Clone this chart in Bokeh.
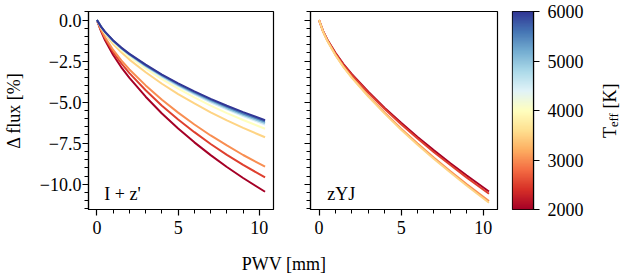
import numpy as np
from bokeh.plotting import figure
from bokeh.layouts import row, column
from bokeh.models import FixedTicker, CustomJSTickFormatter, Range1d, LinearColorMapper
from bokeh.core.properties import value
from bokeh.embed import file_html
from bokeh.resources import INLINE

# ---------------- data ----------------
pwv = [0, 0.25, 0.5, 1, 1.5, 2, 3, 4, 5, 6, 7, 8, 9, 10.35]

teff_iz = [2000, 2500, 3000, 3500, 4000, 4500, 5000, 5500, 6000]
iz_2000 = [0, -0.68, -1.23, -2.13, -2.88, -3.52, -4.67, -5.69, -6.61, -7.45, -8.23, -8.95, -9.62, -10.46]
iz_2500 = [0, -0.62, -1.13, -1.96, -2.64, -3.23, -4.28, -5.22, -6.06, -6.83, -7.55, -8.21, -8.82, -9.59]
iz_3000 = [0, -0.58, -1.05, -1.82, -2.46, -3.01, -3.98, -4.86, -5.64, -6.36, -7.03, -7.64, -8.22, -8.93]
iz_3500 = [0, -0.46, -0.84, -1.46, -1.96, -2.41, -3.18, -3.88, -4.51, -5.08, -5.62, -6.11, -6.57, -7.14]
iz_4000 = [0, -0.43, -0.78, -1.35, -1.82, -2.23, -2.95, -3.60, -4.18, -4.71, -5.21, -5.67, -6.09, -6.62]
iz_4500 = [0, -0.41, -0.75, -1.30, -1.75, -2.14, -2.84, -3.46, -4.02, -4.53, -5.01, -5.44, -5.85, -6.36]
iz_5000 = [0, -0.41, -0.74, -1.28, -1.72, -2.11, -2.80, -3.41, -3.96, -4.46, -4.93, -5.37, -5.77, -6.27]
iz_5500 = [0, -0.40, -0.73, -1.26, -1.70, -2.08, -2.76, -3.36, -3.91, -4.40, -4.86, -5.29, -5.69, -6.18]
iz_6000 = [0, -0.40, -0.72, -1.24, -1.68, -2.06, -2.72, -3.32, -3.86, -4.34, -4.80, -5.22, -5.61, -6.10]

teff_zyj = [2000, 2500, 3000, 3500]
zyj_2000 = [0, -0.68, -1.18, -2.00, -2.70, -3.30, -4.37, -5.35, -6.26, -7.12, -7.94, -8.72, -9.47, -10.44]
zyj_2500 = [0, -0.69, -1.20, -2.03, -2.74, -3.34, -4.43, -5.42, -6.35, -7.22, -8.05, -8.83, -9.60, -10.58]
zyj_3000 = [0, -0.72, -1.25, -2.12, -2.86, -3.49, -4.62, -5.65, -6.62, -7.52, -8.39, -9.21, -10.00, -11.03]
zyj_3500 = [0, -0.72, -1.26, -2.14, -2.88, -3.52, -4.66, -5.70, -6.68, -7.59, -8.47, -9.29, -10.09, -11.13]

x_ticks = [0, 5, 10]
y_ticks = [0, -2.5, -5.0, -7.5, -10.0]
cbar_ticks = [2000, 3000, 4000, 5000, 6000]
teff_low, teff_high = 2000, 6000

panel_iz = "I + z'"
panel_zyj = "zYJ"
xlabel = "PWV [mm]"
ylabel = "\u0394 flux [%]"
cbar_label_main = "T"
cbar_label_sub = "eff"
cbar_label_unit = "[K]"

# ---------------- style ----------------
FONT = "Liberation Serif"
FS = "18px"
LW = 2.0
RDYLBU = ['#a50026', '#d73027', '#f46d43', '#fdae61', '#fee090', '#ffffbf',
          '#e0f3f8', '#abd9e9', '#74add1', '#4575b4', '#313695']


def _rgb(h):
    h = h.lstrip('#')
    return np.array([int(h[i:i + 2], 16) for i in (0, 2, 4)], dtype=float)


def cmap(t):
    t = min(max(t, 0.0), 1.0) * (len(RDYLBU) - 1)
    i = min(int(np.floor(t)), len(RDYLBU) - 2)
    f = t - i
    c = _rgb(RDYLBU[i]) * (1 - f) + _rgb(RDYLBU[i + 1]) * f
    return '#%02x%02x%02x' % tuple(int(round(v)) for v in c)


def tcolor(T):
    return cmap((T - teff_low) / (teff_high - teff_low))


XR = (-0.52, 10.87)
YR = (-11.54, 0.52)
TOP = 11
BOTTOM = 36
ROW_H = TOP + 198 + BOTTOM


def style_axes(p):
    p.outline_line_color = "black"
    p.outline_line_width = 1.2
    p.xgrid.visible = False
    p.ygrid.visible = False
    p.background_fill_color = "white"
    p.border_fill_color = "white"
    for ax in list(p.xaxis) + list(p.yaxis):
        ax.major_tick_out = 6
        ax.major_tick_in = 0
        ax.minor_tick_out = 4
        ax.minor_tick_in = 0
        ax.axis_line_width = 1.2
        ax.axis_line_color = "black"
        ax.major_tick_line_width = 1.2
        ax.minor_tick_line_width = 1.0
        ax.major_tick_line_color = "black"
        ax.minor_tick_line_color = "black"
        ax.major_label_text_font = FONT
        ax.major_label_text_font_size = FS
        ax.major_label_text_color = "black"
        ax.axis_label_text_font = FONT
        ax.axis_label_text_font_size = FS
        ax.axis_label_text_font_style = "normal"
        ax.axis_label_text_color = "black"


def make_panel(width, bl, br, with_labels):
    p = figure(width=width, height=ROW_H, output_backend="svg", toolbar_location=None,
               x_range=Range1d(*XR), y_range=Range1d(*YR),
               min_border_left=bl, min_border_right=br, min_border_top=TOP,
               min_border_bottom=BOTTOM)
    style_axes(p)
    p.xaxis.ticker = FixedTicker(ticks=x_ticks, minor_ticks=list(range(0, 11)))
    p.yaxis.ticker = FixedTicker(ticks=y_ticks, minor_ticks=[-11.5 + 0.5 * i for i in range(25)])
    p.xaxis.major_label_standoff = 5
    if with_labels:
        p.yaxis.formatter = CustomJSTickFormatter(
            code="return (tick < 0 ? '\u2212' : '') + Math.abs(tick).toFixed(1);")
        p.yaxis.major_label_standoff = 1
        p.yaxis.axis_label = ylabel
        p.yaxis.axis_label_standoff = 13
    else:
        p.yaxis.formatter = CustomJSTickFormatter(code="return '';")
    return p


# left panel
p1 = make_panel(290, 86, 17, True)
for T, ys in zip(teff_iz, [iz_2000, iz_2500, iz_3000, iz_3500, iz_4000,
                           iz_4500, iz_5000, iz_5500, iz_6000]):
    p1.line(pwv, ys, line_color=tcolor(T), line_width=LW)
p1.text(x=[0.45], y=[-10.62], text=[panel_iz], text_font=value(FONT), text_font_size=FS,
        text_align="left", text_baseline="alphabetic", text_color="black")

# right panel
p2 = make_panel(215, 20, 8, False)
for T, ys in zip(teff_zyj, [zyj_2000, zyj_2500, zyj_3000, zyj_3500]):
    p2.line(pwv, ys, line_color=tcolor(T), line_width=LW)
p2.text(x=[0.5], y=[-10.62], text=[panel_zyj], text_font=value(FONT), text_font_size=FS,
        text_align="left", text_baseline="alphabetic", text_color="black")

# colorbar
pal = [cmap(i / 255.0) for i in range(256)]
mapper = LinearColorMapper(palette=pal, low=teff_low, high=teff_high)
p3 = figure(width=92, height=ROW_H, output_backend="svg", toolbar_location=None,
            x_range=Range1d(0, 1), y_range=Range1d(teff_low, teff_high),
            x_axis_type=None, y_axis_location="right",
            min_border_left=7, min_border_right=64, min_border_top=TOP, min_border_bottom=BOTTOM)
style_axes(p3)
p3.image(image=[np.linspace(teff_low, teff_high, 256).reshape(256, 1)], x=0, y=teff_low,
         dw=1, dh=teff_high - teff_low, color_mapper=mapper)
p3.yaxis.ticker = FixedTicker(ticks=cbar_ticks, minor_ticks=[])
p3.yaxis.major_label_standoff = 8

# colorbar label (rotated, with subscript)
p5 = figure(width=26, height=ROW_H, output_backend="svg", toolbar_location=None,
            x_range=Range1d(0, 26), y_range=Range1d(teff_low, teff_high),
            x_axis_type=None, y_axis_type=None,
            min_border_left=0, min_border_right=0, min_border_top=TOP, min_border_bottom=BOTTOM)
p5.outline_line_color = None
p5.xgrid.visible = False
p5.ygrid.visible = False
p5.text(x=[12.5], y=[3445], text=[cbar_label_main], angle=np.pi / 2, text_font=value(FONT),
        text_font_size=FS, text_align="left", text_baseline="middle", text_color="black")
p5.text(x=[16.5], y=[3667], text=[cbar_label_sub], angle=np.pi / 2, text_font=value(FONT),
        text_font_size="12.6px", text_align="left", text_baseline="middle", text_color="black")
p5.text(x=[12.5], y=[4040], text=[cbar_label_unit], angle=np.pi / 2, text_font=value(FONT),
        text_font_size=FS, text_align="left", text_baseline="middle", text_color="black")

# shared x label strip
p4 = figure(width=623, height=275 - ROW_H, output_backend="svg", toolbar_location=None,
            x_range=Range1d(0, 623), y_range=Range1d(0, 275 - ROW_H),
            x_axis_type=None, y_axis_type=None, min_border=0)
p4.outline_line_color = None
p4.xgrid.visible = False
p4.ygrid.visible = False
p4.text(x=[283.5], y=[12], text=[xlabel], text_font=value(FONT), text_font_size=FS,
        text_align="center", text_baseline="middle", text_color="black")

layout = column(row(p1, p2, p3, p5), p4)
open("out.html", "w").write(file_html(layout, INLINE))
